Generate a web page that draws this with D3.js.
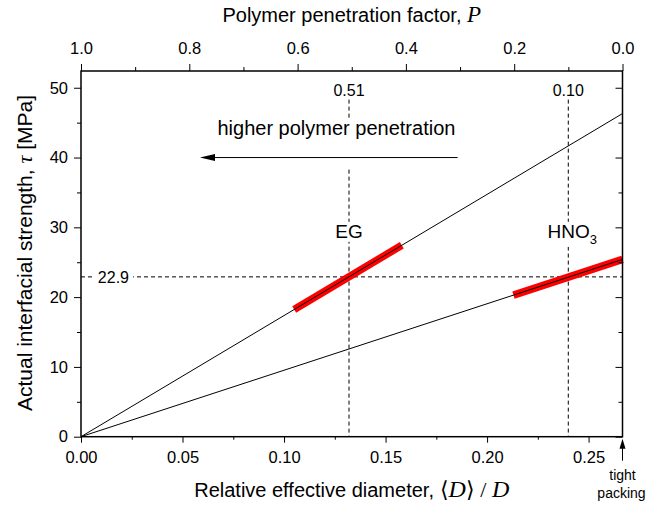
<!DOCTYPE html>
<html>
<head>
<meta charset="utf-8">
<script src="https://cdn.jsdelivr.net/npm/d3@7"></script>
<style>
  body { margin: 0; background: #fff; }
  text { font-family: Arial, "Liberation Sans", sans-serif; fill: #000; }
  .it { font-family: "Times New Roman", "Liberation Serif", serif; font-style: italic; }
</style>
</head>
<body>
<div id="chart"></div>
<script>
// ---- data ----
var xTight = 0.2667;                       // <D>/D at tight packing (P = 0)
var xTicks = [0, 0.05, 0.10, 0.15, 0.20, 0.25];
var xMinor = [0.025, 0.075, 0.125, 0.175, 0.225];
var yTicks = [0, 10, 20, 30, 40, 50];
var yMinor = [5, 15, 25, 35, 45];
var pTicks = [1.0, 0.8, 0.6, 0.4, 0.2, 0.0];
var pMinor = [0.9, 0.7, 0.5, 0.3, 0.1];
var yMax = 52.4;

var seriesNames = ["EG", "HNO3"];
var tauAtTight = [46.3, 25.4];             // each line goes from (0,0) to (xTight, tau)
var redFrom = [0.105, 0.213];
var redTo   = [0.158, 0.2667];
var markX = [0.132, 0.240];                // vertical dashed lines
var markLabel = ["0.51", "0.10"];
var tauRef = 22.9;

var W = 648, H = 505;
var pL = 81, pR = 622.5, pT = 71, pB = 436.7;

var svg = d3.select("#chart").append("svg")
  .attr("width", W).attr("height", H);

var x = d3.scaleLinear().domain([0, xTight]).range([pL, pR]);
var p = d3.scaleLinear().domain([1, 0]).range([pL, pR]);
var y = d3.scaleLinear().domain([0, yMax]).range([pB, pT]);

// small helper: white box behind a text node
function whiteOut(t, pad) {
  var b = t.node().getBBox();
  d3.select(t.node().parentNode).insert("rect", ":first-child")
    .attr("x", b.x - pad).attr("y", b.y + 1)
    .attr("width", b.width + 2 * pad).attr("height", b.height - 1)
    .attr("fill", "#fff");
}

var dash = "4,3";

// ---- reference lines ----
var refs = svg.append("g");
refs.append("line")
  .attr("x1", x(0)).attr("x2", x(xTight))
  .attr("y1", y(tauRef)).attr("y2", y(tauRef))
  .attr("stroke", "#000").attr("stroke-dasharray", dash);
refs.selectAll(".vmark").data(markX).enter().append("line")
  .attr("class", "vmark")
  .attr("x1", d => x(d)).attr("x2", d => x(d))
  .attr("y1", y(48.3)).attr("y2", y(0))
  .attr("stroke", "#000").attr("stroke-dasharray", dash);

// ---- lines with red highlighted ranges ----
var lines = svg.append("g");
var lineFn = d3.line().x(d => x(d[0])).y(d => y(d[1]));
seriesNames.forEach(function(name, i) {
  var slope = tauAtTight[i] / xTight;
  lines.append("path")
    .attr("d", lineFn([[redFrom[i], slope * redFrom[i]], [redTo[i], slope * redTo[i]]]))
    .attr("stroke", "#ff0000").attr("stroke-width", 7.5).attr("fill", "none");
});
seriesNames.forEach(function(name, i) {
  lines.append("path")
    .attr("d", lineFn([[0, 0], [xTight, tauAtTight[i]]]))
    .attr("stroke", "#000").attr("stroke-width", 1).attr("fill", "none");
});

// ---- text annotations (with white backgrounds) ----
var ann = svg.append("g");
markX.forEach(function(d, i) {
  ann.append("text").attr("x", x(d)).attr("y", y(48.8))
    .attr("text-anchor", "middle").attr("font-size", 16).text(markLabel[i]);
});

var t229 = ann.append("g");
var tt = t229.append("text").attr("x", x(0.0083)).attr("y", y(tauRef) + 6)
  .attr("font-size", 16).text("22.9");
whiteOut(tt, 4);

var eg = ann.append("g");
var egT = eg.append("text").attr("x", x(markX[0])).attr("y", y(28.5))
  .attr("text-anchor", "middle").attr("font-size", 19).text("EG");
whiteOut(egT, 2);

var hn = ann.append("g");
var hnT = hn.append("text").attr("x", x(markX[1]) + 4).attr("y", y(28.5))
  .attr("text-anchor", "middle").attr("font-size", 19);
hnT.append("tspan").text("HNO");
hnT.append("tspan").attr("font-size", 13).attr("dy", 6).text("3");
whiteOut(hnT, 2);

// higher polymer penetration + arrow
var hp = ann.append("g");
var arrowY = y(40);
var hpT = hp.append("text").attr("x", x(0.1258)).attr("y", y(43.2))
  .attr("text-anchor", "middle").attr("font-size", 20).text("higher polymer penetration");
var hb = hpT.node().getBBox();
hp.insert("rect", ":first-child")
  .attr("x", hb.x).attr("y", hb.y + 1)
  .attr("width", hb.width).attr("height", arrowY + 11 - hb.y - 1)
  .attr("fill", "#fff");
var ax0 = x(0.1855), ax1 = x(0.0586);
hp.append("line").attr("x1", ax0).attr("x2", ax1 + 12).attr("y1", arrowY).attr("y2", arrowY)
  .attr("stroke", "#000").attr("stroke-width", 1);
hp.append("path")
  .attr("d", "M" + ax1 + "," + arrowY + "l15,-3.5l0,7z").attr("fill", "#000");

// ---- frame and axes ----
var frame = svg.append("g");
frame.append("rect").attr("x", pL).attr("y", pT)
  .attr("width", pR - pL).attr("height", pB - pT)
  .attr("fill", "none").attr("stroke", "#000").attr("stroke-width", 1.5);

svg.append("g").attr("transform", "translate(0," + pB + ")")
  .call(d3.axisBottom(x).tickValues(xTicks).tickFormat(d3.format(".2f"))
    .tickSize(6).tickSizeOuter(0).tickPadding(9));
svg.append("g").attr("transform", "translate(0," + pB + ")")
  .call(d3.axisBottom(x).tickValues(xMinor).tickFormat("").tickSize(3).tickSizeOuter(0));

svg.append("g").attr("transform", "translate(0," + pT + ")")
  .call(d3.axisTop(p).tickValues(pTicks).tickFormat(d3.format(".1f"))
    .tickSize(7).tickSizeOuter(0).tickPadding(10));
svg.append("g").attr("transform", "translate(0," + pT + ")")
  .call(d3.axisTop(p).tickValues(pMinor).tickFormat("").tickSize(4).tickSizeOuter(0));

svg.append("g").attr("transform", "translate(" + pL + ",0)")
  .call(d3.axisLeft(y).tickValues(yTicks).tickFormat(d3.format("d"))
    .tickSize(7).tickSizeOuter(0).tickPadding(6));
svg.append("g").attr("transform", "translate(" + pL + ",0)")
  .call(d3.axisLeft(y).tickValues(yMinor).tickFormat("").tickSize(4).tickSizeOuter(0));

// right side: inward ticks, no labels
svg.append("g").attr("transform", "translate(" + pR + ",0)")
  .call(d3.axisLeft(y).tickValues(yTicks).tickFormat("").tickSize(7).tickSizeOuter(0));
svg.append("g").attr("transform", "translate(" + pR + ",0)")
  .call(d3.axisLeft(y).tickValues(yMinor).tickFormat("").tickSize(4).tickSizeOuter(0));

svg.selectAll(".domain").remove();
svg.selectAll(".tick text").attr("font-size", 16.5)
  .style("font-family", "Arial, 'Liberation Sans', sans-serif");
svg.selectAll(".tick line").attr("stroke", "#000");

// ---- axis titles ----
var topTitle = svg.append("text").attr("x", (pL + pR) / 2).attr("y", 22)
  .attr("text-anchor", "middle").attr("font-size", 20);
topTitle.append("tspan").text("Polymer penetration factor, ");
topTitle.append("tspan").attr("class", "it").attr("font-size", 23).text("P");

var xTitle = svg.append("text").attr("x", (pL + pR) / 2).attr("y", 497)
  .attr("text-anchor", "middle").attr("font-size", 20);
xTitle.append("tspan").text("Relative effective diameter, ");
xTitle.append("tspan").attr("font-size", 22).style("font-family", "'Liberation Serif', serif").text("\u27E8");
xTitle.append("tspan").attr("class", "it").attr("font-size", 24).text("D");
xTitle.append("tspan").attr("font-size", 22).style("font-family", "'Liberation Serif', serif").text("\u27E9 / ");
xTitle.append("tspan").attr("class", "it").attr("font-size", 24).text("D");

var yTitle = svg.append("text")
  .attr("transform", "translate(32,253) rotate(-90)")
  .attr("text-anchor", "middle").attr("font-size", 21);
yTitle.append("tspan").text("Actual interfacial strength, ");
yTitle.append("tspan").attr("class", "it").attr("font-size", 22).text("\u03C4");
yTitle.append("tspan").text("  [MPa]");

// ---- tight packing marker ----
var tp = svg.append("g");
tp.append("line").attr("x1", x(xTight)).attr("x2", x(xTight))
  .attr("y1", pB + 24).attr("y2", pB + 8)
  .attr("stroke", "#000").attr("stroke-width", 1);
tp.append("path")
  .attr("d", "M" + x(xTight) + "," + (pB + 2) + "l-3,10l6,0z").attr("fill", "#000");
tp.append("text").attr("x", x(xTight)).attr("y", 480)
  .attr("text-anchor", "middle").attr("font-size", 14).text("tight");
tp.append("text").attr("x", x(xTight) - 1).attr("y", 498)
  .attr("text-anchor", "middle").attr("font-size", 14).text("packing");
</script>
</body>
</html>
